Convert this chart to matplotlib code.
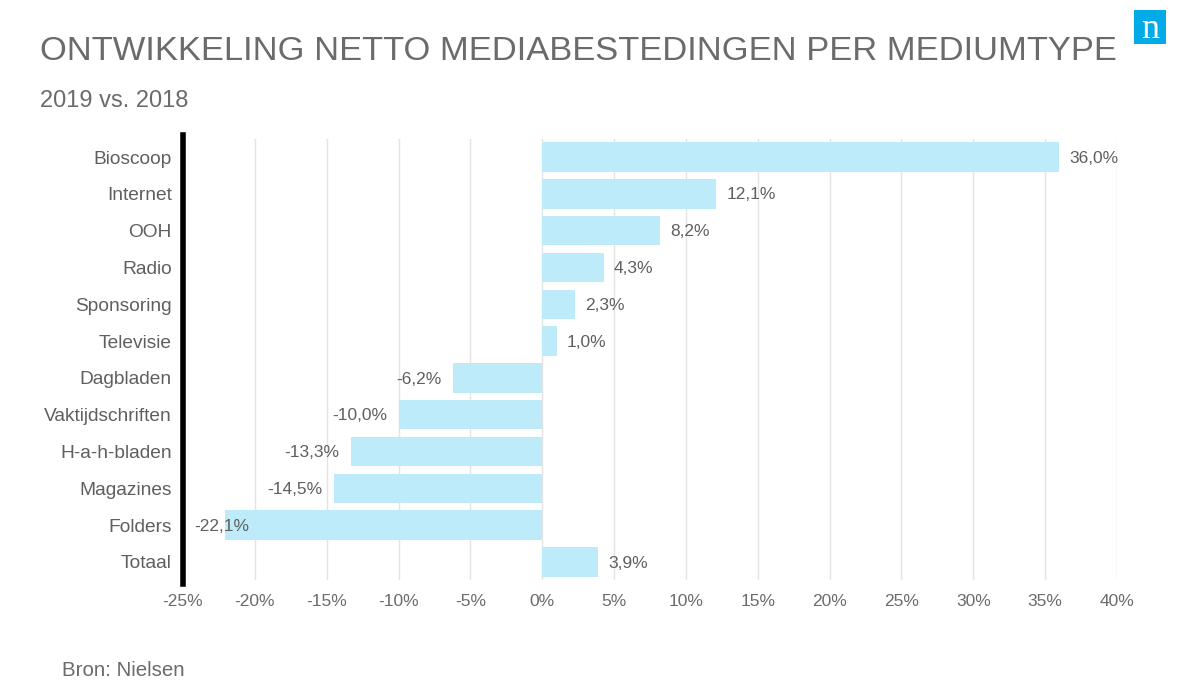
import numpy as np
import matplotlib.pyplot as plt

categories = ['Bioscoop', 'Internet', 'OOH', 'Radio', 'Sponsoring', 'Televisie',
              'Dagbladen', 'Vaktijdschriften', 'H-a-h-bladen', 'Magazines', 'Folders', 'Totaal']
values = [36.0, 12.1, 8.2, 4.3, 2.3, 1.0, -6.2, -10.0, -13.3, -14.5, -22.1, 3.9]
xticks = [-25, -20, -15, -10, -5, 0, 5, 10, 15, 20, 25, 30, 35, 40]

plt.rcParams['font.family'] = ['Liberation Sans', 'DejaVu Sans']
grey = '#5f5f5f'
light_grey = '#6b6b6b'
bar_color = '#BDEBF9'

fig = plt.figure(figsize=(12, 6.92), dpi=100)
ax = fig.add_axes([0.1525, 0.1613, 0.7783, 0.6384])

xmin, xmax = -25, 40
y = np.arange(len(categories))
ax.barh(y, values, height=0.8, color=bar_color, zorder=2)
for yi, v in zip(y, values):
    label = f"{v:.1f}%".replace('.', ',')
    if v >= 0:
        ax.text(v + 0.7, yi + 0.03, label, ha='left', va='center', fontsize=12.5, color=grey, zorder=3)
    elif v - 4.5 < xmin:
        # not enough room left of the bar: keep label just right of the axis
        ax.text(xmin + 0.8, yi + 0.03, label, ha='left', va='center', fontsize=12.5, color=grey, zorder=3)
    else:
        ax.text(v - 0.8, yi + 0.03, label, ha='right', va='center', fontsize=12.5, color=grey, zorder=3)

ax.set_xlim(xmin, xmax)
ax.set_ylim(len(categories) - 0.5, -0.5)
ax.set_xticks(xticks)
ax.set_xticklabels([f"{t}%" for t in xticks], fontsize=12.5, color=light_grey)
ax.set_yticks(y)
ax.set_yticklabels(categories, fontsize=13.8, color=grey)
ax.tick_params(length=0, pad=10)
ax.tick_params(axis='y', pad=8)
ax.grid(axis='x', color='#E3E3E3', linewidth=1, zorder=0)
for s in ['top', 'right', 'bottom']:
    ax.spines[s].set_visible(False)
ax.spines['left'].set_linewidth(4)
ax.spines['left'].set_color('black')
ax.spines['left'].set_zorder(4)
ax.spines['left'].set_bounds(len(categories) - 0.4, -0.6)

fig.text(40 / 1200, 1 - 52 / 692, 'ONTWIKKELING NETTO MEDIABESTEDINGEN PER MEDIUMTYPE',
         fontsize=24.8, color=light_grey, ha='left', va='center')
fig.text(40 / 1200, 1 - 101 / 692, '2019 vs. 2018', fontsize=17, color=light_grey, ha='left', va='center')
fig.text(62 / 1200, 1 - 670 / 692, 'Bron: Nielsen', fontsize=14.8, color=light_grey, ha='left', va='center')

# logo
logo = fig.add_axes([1134 / 1200, 1 - 44 / 692, 32 / 1200, 34 / 692])
logo.set_facecolor('#00ABE8')
logo.set_xticks([])
logo.set_yticks([])
for s in logo.spines.values():
    s.set_visible(False)
logo.text(0.5, 0.42, 'n', color='white', fontsize=26, ha='center', va='center',
          family=['Liberation Serif', 'DejaVu Serif'], transform=logo.transAxes)

fig.savefig('out.png', dpi=100)
